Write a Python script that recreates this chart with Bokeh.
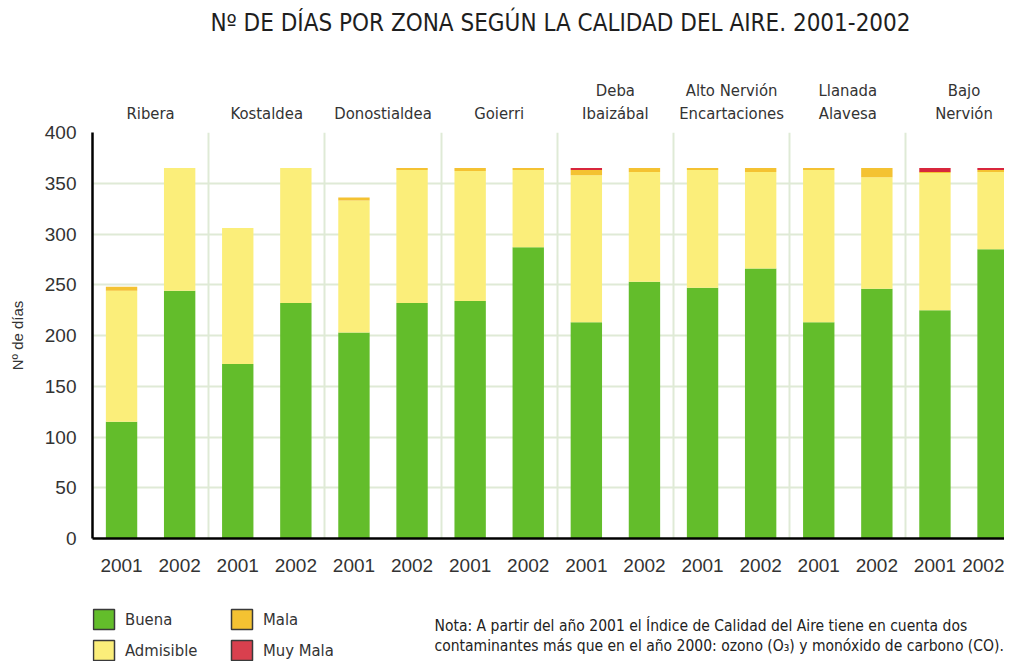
from bokeh.plotting import figure
from bokeh.models import ColumnDataSource, FixedTicker, LinearAxis, Range1d
from bokeh.core.properties import value
from bokeh.layouts import column
from bokeh.embed import file_html
from bokeh.resources import INLINE

# ---- data ----
zones = ["Ribera", "Kostaldea", "Donostialdea", "Goierri", "Deba\nIbaizábal",
         "Alto Nervión\nEncartaciones", "Llanada\nAlavesa", "Bajo\nNervión"]
years = ["2001", "2002"]
buena = [115, 244, 172, 232, 203, 232, 234, 287, 213, 253, 247, 266, 213, 246, 225, 285]
admisible = [129, 121, 134, 133, 130, 131, 128, 76, 145, 108, 116, 95, 150, 110, 135, 76]
mala = [4, 0, 0, 0, 3, 2, 3, 2, 5, 4, 2, 4, 2, 9, 1, 2]
muy_mala = [0, 0, 0, 0, 0, 0, 0, 0, 2, 0, 0, 0, 0, 0, 4, 2]
categories = ["Buena", "Admisible", "Mala", "Muy Mala"]
y_ticks = [0, 50, 100, 150, 200, 250, 300, 350, 400]
title_text = "Nº DE DÍAS POR ZONA SEGÚN LA CALIDAD DEL AIRE. 2001-2002"
y_label = "Nº de días"
note_lines = ["Nota: A partir del año 2001 el Índice de Calidad del Aire tiene en cuenta dos",
              "contaminantes más que en el año 2000: ozono (O₃) y monóxido de carbono (CO)."]

NARROW = "DejaVu Sans Condensed"
REG = "Liberation Sans"
fills = ["#63bd2b", "#fbee7a", "#f4c232", "#d8263c"]
legend_fills = ["#63bd2b", "#fbee7a", "#f4c232", "#d9404e"]

W = 1004
L = 92          # left border of the plotting frame (px)
GROUP_PX = 116.2

xs = []
labels = {}
for g in range(len(zones)):
    for j, yr in enumerate(years):
        x = g + 0.25 + 0.5 * j
        xs.append(x)
        labels[x] = yr
zone_pos = [g + 0.5 for g in range(len(zones))]

src = ColumnDataSource(dict(x=xs, Buena=buena, Admisible=admisible, Mala=mala, MuyMala=muy_mala))


def blank(height):
    f = figure(width=W, height=height, output_backend="svg", toolbar_location=None,
               x_range=Range1d(L, W), y_range=Range1d(height, 0),
               min_border_left=L, min_border_right=0, min_border_top=0, min_border_bottom=0,
               x_axis_type=None, y_axis_type=None)
    f.outline_line_color = None
    f.grid.visible = False
    return f


# ---- header with title ----
t = blank(60)
t.text(x=[560], y=[22], text=[title_text], text_font=value(NARROW), text_font_size="24px",
       text_color="#1e1e1e", text_align="center", text_baseline="middle")

# ---- main chart ----
p = figure(width=W, height=540, output_backend="svg", toolbar_location=None,
           x_range=Range1d(0, (W - L) / GROUP_PX), y_range=Range1d(0, 400),
           min_border_left=L, min_border_right=0, min_border_top=72, min_border_bottom=62)
p.outline_line_color = None

p.vbar_stack(["Buena", "Admisible", "Mala", "MuyMala"], x="x", width=0.27, source=src,
             fill_color=fills, line_color=None)

bottom = p.below[0]
bottom.ticker = FixedTicker(ticks=xs)
bottom.major_label_overrides = labels
bottom.major_tick_line_color = None
bottom.minor_tick_line_color = None
bottom.axis_line_color = "black"
bottom.axis_line_width = 2.5
bottom.major_label_text_font = REG
bottom.major_label_text_font_size = "19px"
bottom.major_label_text_color = "#333333"
bottom.major_label_standoff = 14

# zone labels above the plot
top = LinearAxis(ticker=FixedTicker(ticks=zone_pos),
                 major_label_overrides={pos: z for pos, z in zip(zone_pos, zones)})
top.axis_line_color = None
top.major_tick_line_color = None
top.minor_tick_line_color = None
top.major_label_text_font = NARROW
top.major_label_text_font_size = "16.5px"
top.major_label_text_color = "#333333"
top.major_label_standoff = 4
p.add_layout(top, "above")

left = p.left[0]
left.ticker = FixedTicker(ticks=y_ticks)
left.major_tick_line_color = None
left.minor_tick_line_color = None
left.axis_line_color = "black"
left.axis_line_width = 2.5
left.major_label_text_font = REG
left.major_label_text_font_size = "19px"
left.major_label_text_color = "#333333"
left.major_label_standoff = 10
left.axis_label = y_label
left.axis_label_text_font = REG
left.axis_label_text_font_style = "normal"
left.axis_label_text_font_size = "15px"
left.axis_label_text_color = "#333333"
left.axis_label_standoff = 16

p.ygrid.ticker = FixedTicker(ticks=y_ticks)
p.ygrid.grid_line_color = "#dfead6"
p.ygrid.grid_line_width = 2
p.xgrid.ticker = FixedTicker(ticks=list(range(1, len(zones))))
p.xgrid.grid_line_color = "#dfead6"
p.xgrid.grid_line_width = 2

# ---- legend and note ----
q = blank(61)
leg_x = [103.5, 103.5, 241.5, 241.5]
leg_y = [19, 50, 19, 50]
q.rect(x=leg_x, y=leg_y, width=21, height=20, fill_color=legend_fills,
       line_color="#3a3a3a", line_width=1.5)
q.text(x=[x + 21 for x in leg_x], y=leg_y, text=categories, text_font=value(NARROW),
       text_font_size="16.5px", text_color="#333333", text_baseline="middle", text_align="left")
q.text(x=[434, 434], y=[25, 45], text=note_lines, text_font=value(NARROW),
       text_font_size="15.5px", text_color="#222222", text_baseline="middle", text_align="left")

open("out.html", "w").write(file_html(column(t, p, q, spacing=0), INLINE))
